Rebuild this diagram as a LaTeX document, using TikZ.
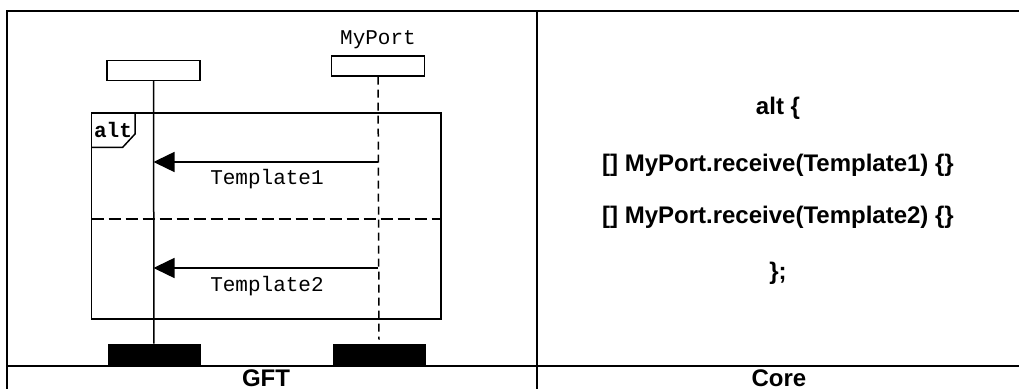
\documentclass[tikz,border=0pt]{standalone}
\usepackage{fontspec}
\setmainfont{Liberation Sans}
\newfontfamily\msgfont{Liberation Mono}
\usetikzlibrary{arrows.meta}

\tikzset{
  grid/.style={line width=1pt},
  head/.style={draw, line width=0.75pt, minimum width=46.5pt, minimum height=10pt, inner sep=0pt},
  endbar/.style={fill=black, minimum width=46.5pt, minimum height=10.5pt, inner sep=0pt},
  msgtext/.style={font=\msgfont\fontsize{10.5}{12}\selectfont, inner sep=0pt},
  coretext/.style={font=\bfseries\fontsize{12}{14}\selectfont, inner sep=0pt},
  msg/.style={line width=0.75pt, -{Triangle[length=10.5pt, width=10pt]}},
}

\begin{document}
\begin{tikzpicture}[x=0.5pt, y=-0.5pt]
  \useasboundingbox (0,0) rectangle (1019,389);
  % table
  \draw[grid] (6.5,389) -- (6.5,11) -- (1019,11);
  \draw[grid] (537,11) -- (537,389);
  \draw[grid] (6.5,366) -- (1019,366);
  \node[coretext] (gft) at (266,378) {GFT};
  \node[coretext] (core) at (779,378) {Core};

  % instances
  \node[head] (ptc) at (153.5,70.5) {};
  \node[head] (port) at (378,66) {};
  \node[msgtext] (portname) at (378,40) {MyPort};
  \node[endbar] (ptcend) at (154,354.5) {};
  \node[endbar] (portend) at (379,354.5) {};
  \draw[line width=0.75pt] (ptc) -- (ptcend);
  \draw[line width=0.75pt, dash pattern=on 4pt off 2.5pt] (port) -- ([yshift=2pt]portend.north);

  % alt frame
  \coordinate (altnw) at (91.5,113);
  \coordinate (altse) at (441,319);
  \draw[line width=0.75pt] (altnw) rectangle (altse);
  \draw[line width=0.75pt] (91.5,147.5) -- (122.5,147.5) -- (135,134) -- (135,113);
  \node[msgtext, font=\msgfont\bfseries\fontsize{10.5}{12}\selectfont] (altname) at (113,130) {alt};
  \draw[line width=0.75pt, dash pattern=on 6pt off 2.5pt] (91.5,219) -- (441,219);

  % messages
  \coordinate (m1src) at (378,162);
  \coordinate (m1dst) at (153.5,162);
  \coordinate (m2src) at (378,268);
  \coordinate (m2dst) at (153.5,268);
  \draw[msg] (m1src) -- (m1dst);
  \draw[msg] (m2src) -- (m2dst);
  \node[msgtext] (tmpl1) at (267,179) {Template1};
  \node[msgtext] (tmpl2) at (267,286) {Template2};

  % core notation
  \node[coretext] (l1) at (778,108) {alt \{};
  \node[coretext] (l2) at (778,165) {[] MyPort.receive(Template1) \{\}};
  \node[coretext] (l3) at (778,217) {[] MyPort.receive(Template2) \{\}};
  \node[coretext] (l4) at (778,273) {\};};
\end{tikzpicture}
\end{document}
